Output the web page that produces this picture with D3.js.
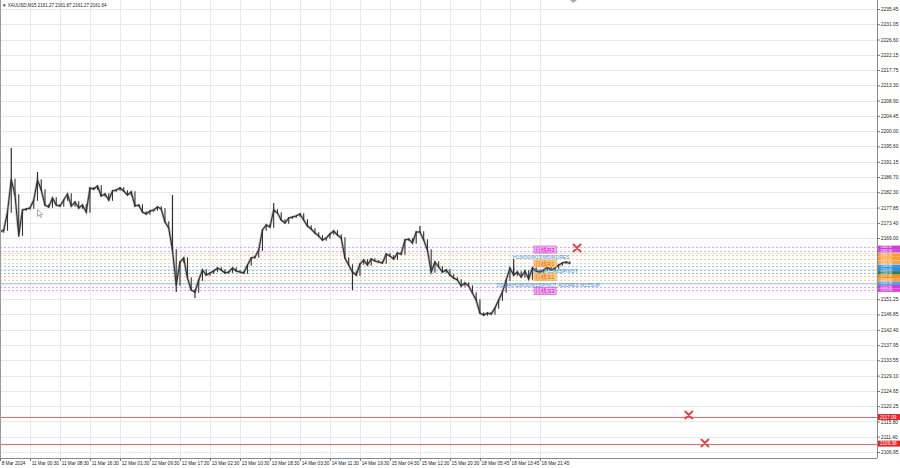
<!DOCTYPE html>
<html><head><meta charset="utf-8">
<script src="https://cdn.jsdelivr.net/npm/d3@7"></script>
<style>body{margin:0;background:#fff;} svg{display:block;}</style>
</head><body>
<svg id="c" width="900" height="468"></svg>
<script>
// ---------------- DATA ----------------
const symbolTitle = "XAUUSD,M15  2161.27 2161.87 2161.27 2161.64";
const timeLabels = ["8 Mar 2024","11 Mar 00:30","11 Mar 08:30","11 Mar 16:30","12 Mar 01:30","12 Mar 09:30",
  "12 Mar 17:30","13 Mar 02:30","13 Mar 10:30","13 Mar 18:30","14 Mar 03:30","14 Mar 11:30","14 Mar 19:30",
  "15 Mar 04:30","15 Mar 12:30","15 Mar 20:30","18 Mar 05:45","18 Mar 13:45","18 Mar 21:45"];
const priceTicks = [2235.45,2231.05,2226.60,2222.15,2217.75,2213.30,2208.90,2204.45,2200.00,2195.60,2191.15,
  2186.70,2182.30,2177.85,2173.40,2169.00,2164.55,2160.10,2155.70,2151.25,2146.85,2142.40,2137.95,2133.55,
  2129.10,2124.65,2120.25,2115.80,2111.40,2106.95];
// hourly closes (one value per hour of trading)
const closes = [2170.76,2171.34,2176.56,2186.00,2181.49,2169.89,2177.14,2177.43,2177.72,2180.04,
  2185.84,2182.94,2178.59,2178.01,2180.62,2178.59,2178.30,2180.04,2181.78,2178.30,
  2179.46,2177.72,2178.59,2176.56,2183.52,2183.23,2184.10,2181.20,2181.78,2180.04,
  2182.65,2182.94,2183.52,2182.65,2181.49,2182.36,2178.30,2178.59,2176.56,2175.98,
  2176.85,2177.14,2178.01,2177.43,2173.66,2171.92,2165.53,2155.38,2162.05,2163.21,
  2157.41,2153.93,2153.35,2156.83,2159.73,2158.28,2158.86,2159.44,2160.31,2159.73,
  2158.86,2159.15,2160.31,2159.44,2159.15,2158.86,2161.18,2163.21,2163.50,2165.53,
  2171.34,2172.79,2172.21,2177.14,2176.27,2174.24,2173.37,2174.82,2175.11,2175.40,
  2175.98,2174.24,2172.50,2171.63,2170.47,2169.59,2168.43,2169.01,2170.18,2171.05,
  2169.89,2169.01,2163.21,2161.18,2159.15,2158.28,2161.47,2162.63,2161.18,2162.92,
  2162.34,2162.05,2161.76,2164.37,2163.79,2162.92,2164.66,2164.37,2168.43,2168.72,
  2167.56,2170.76,2170.76,2168.43,2165.53,2159.15,2162.05,2160.60,2159.15,2159.73,
  2158.28,2157.41,2156.83,2155.09,2155.96,2155.09,2153.06,2151.03,2147.26,2146.68,
  2147.26,2146.97,2148.71,2151.03,2153.35,2156.83,2160.31,2158.28,2159.15,2157.70,
  2159.44,2157.12,2160.31,2159.44,2159.15,2159.73,2160.60,2159.73,2160.31,2161.18,
  2161.76,2162.05,2161.64];
// notable wicks (hour index, extreme price)
const wickHour  = [3, 5, 10, 46, 47, 52, 73, 94, 112, 129, 137];
const wickPrice = [2195.12, 2169.30, 2188.16, 2181.49, 2153.35, 2151.61, 2179.17, 2153.93, 2172.50, 2146.39, 2162.92];
// support / resistance levels
const levelPrices = [2166.32,2165.30,2164.10,2163.00,2161.90,2160.80,2159.85,2158.90,2157.90,2156.90,2155.90,2154.90,2153.90];
const levelColors = ["#d63bd6","#c04fe0","#ff9a2e","#ff9a2e","#ffa040","#3a9be0","#2f8fd8","#2e7d5b","#ff8c1a","#ffa040","#4aa8e8","#d63bd6","#e040e0"];
const redLines = [2117.09, 2109.38];
// annotations
const annText  = ["日线R3","H1|M30|M15|M5|M1|RES","日线R1","M30|M15|M5|PIVOT","日线S1","D1|H4|H1|M30|M15|PIVOT ADDRES M15SUP","日线S3"];
const annHour  = [145.3, 136.8, 145.3, 154.1, 145.3, 132.5, 145.3];
const annPrice = [2165.68, 2163.50, 2161.62, 2159.44, 2157.70, 2155.38, 2153.64];
const annKind  = ["boxM","text","boxO","textEnd","boxO","text","boxM"];
// red cross markers
const markHour  = [153.9, 183.7, 188.0];
const markPrice = [2166.11, 2117.67, 2109.55];

// ---------------- DRAW ----------------
const svg = d3.select("#c");
const plotR = 877, plotB = 458;
const font = "'Liberation Sans', Arial, sans-serif";
const x = d3.scaleLinear().domain([0, 233.9]).range([0, plotR]);
const y = d3.scaleLinear().domain([2106.95, 2235.45]).range([452, 9]);
const labelHours = timeLabels.map((_, i) => i * 8);
const px = v => Math.round(v) + 0.5;

// grid
const grid = svg.append("g");
grid.selectAll("line.h").data(priceTicks).join("line")
  .attr("x1", 0).attr("x2", plotR).attr("y1", d => px(y(d))).attr("y2", d => px(y(d)))
  .attr("stroke", "#e8e8e8");
grid.selectAll("line.v").data(labelHours.slice(1)).join("line")
  .attr("x1", d => px(x(d))).attr("x2", d => px(x(d))).attr("y1", 0).attr("y2", plotB)
  .attr("stroke", "#e8e8e8");

// level lines
svg.append("g").selectAll("line").data(levelPrices).join("line")
  .attr("x1", 0).attr("x2", plotR).attr("y1", d => px(y(d))).attr("y2", d => px(y(d)))
  .attr("stroke", (d, i) => levelColors[i]).attr("stroke-opacity", 0.5)
  .attr("stroke-dasharray", (d, i) => i === 10 ? null : "2,2");

// red lines
svg.append("g").selectAll("line").data(redLines).join("line")
  .attr("x1", 0).attr("x2", plotR).attr("y1", d => Math.round(y(d)) + 0.5).attr("y2", d => Math.round(y(d)) + 0.5)
  .attr("stroke", "#e86a6a").attr("stroke-width", 1);

// price series
const pts = closes.map((c, i) => [x(i), y(c)]);
svg.append("path").attr("d", d3.line()(pts)).attr("fill", "none")
  .attr("stroke", "#8a8a8a").attr("stroke-width", 2.6).attr("stroke-opacity", 0.55);
// candle ranges: open = previous close
svg.append("g").selectAll("line").data(closes).join("line")
  .attr("x1", (d, i) => x(i)).attr("x2", (d, i) => x(i))
  .attr("y1", (d, i) => y(Math.max(d, i ? closes[i - 1] : d)) - 0.8)
  .attr("y2", (d, i) => y(Math.min(d, i ? closes[i - 1] : d)) + 0.8)
  .attr("stroke", "#333").attr("stroke-width", 1.1);
svg.append("path").attr("d", d3.line()(pts)).attr("fill", "none")
  .attr("stroke", "#2e2e2e").attr("stroke-width", 1.1);
svg.append("g").selectAll("line").data(wickHour).join("line")
  .attr("x1", d => x(d)).attr("x2", d => x(d))
  .attr("y1", (d, i) => y(closes[d])).attr("y2", (d, i) => y(wickPrice[i]))
  .attr("stroke", "#2e2e2e").attr("stroke-width", 1.2);

// annotations
const ann = svg.append("g").attr("font-family", font);
annText.forEach((t, i) => {
  const ax = x(annHour[i]), ay = y(annPrice[i]);
  if (annKind[i].startsWith("box")) {
    const mag = annKind[i] === "boxM";
    const txt = ann.append("text").attr("x", ax).attr("y", ay).attr("text-anchor", "middle")
      .attr("dominant-baseline", "central").attr("font-size", 6)
      .attr("fill", mag ? "#cc10c8" : "#d86a00").text(t);
    const bb = txt.node().getBBox();
    ann.insert("rect", () => txt.node())
      .attr("x", bb.x - 1).attr("y", ay - 3.5).attr("width", bb.width + 2).attr("height", 7)
      .attr("fill", mag ? "#f6b8f2" : "#ffc98a").attr("stroke", mag ? "#d040d0" : "#ff9a2e").attr("stroke-width", 0.6);
  } else {
    ann.append("text").attr("x", ax).attr("y", ay).attr("dominant-baseline", "central")
      .attr("text-anchor", annKind[i] === "textEnd" ? "end" : "start")
      .attr("font-size", 5).attr("fill", "#3a8fd6").text(t);
  }
});

// red crosses
svg.append("g").selectAll("path").data(markHour).join("path")
  .attr("transform", (d, i) => `translate(${x(d)},${y(markPrice[i])})`)
  .attr("d", "M-3.5,-3.5L3.5,3.5M-3.5,3.5L3.5,-3.5")
  .attr("stroke", "#e04848").attr("stroke-width", 2).attr("stroke-linecap", "round");

// mouse cursor arrow
svg.append("path").attr("transform", `translate(${x(10)},${y(2177.3)})`)
  .attr("d", "M0,0L0,7L1.8,5.3L3,8L4,7.5L2.9,4.9L5.2,4.9Z")
  .attr("fill", "#fff").attr("stroke", "#777").attr("stroke-width", 0.6);

// borders
svg.append("line").attr("x1", plotR + 0.5).attr("x2", plotR + 0.5).attr("y1", 0).attr("y2", plotB).attr("stroke", "#8a8a8a");
svg.append("line").attr("x1", 0).attr("x2", plotR).attr("y1", plotB + 0.5).attr("y2", plotB + 0.5).attr("stroke", "#8a8a8a");
svg.append("line").attr("x1", 0.5).attr("x2", 0.5).attr("y1", 0).attr("y2", plotB).attr("stroke", "#9a9a9a");
svg.append("path").attr("d", `M${x(152)},0L${x(152)+7},0L${x(152)+3.5},3Z`).attr("fill", "#aaa");

// axes
svg.append("g").attr("transform", `translate(${plotR},0)`)
  .call(d3.axisRight(y).tickValues(priceTicks).tickFormat(d3.format(".2f")).tickSize(3).tickPadding(1))
  .call(g => {
    g.select(".domain").remove();
    g.selectAll("line").attr("stroke", "#777");
    g.selectAll("text").attr("font-size", 4.8).attr("font-family", font).attr("fill", "#222");
    // tick labels hidden behind the level labels
    g.selectAll(".tick").filter(d => d > 2153 && d < 2167).select("text").remove();
  });
svg.append("g").attr("transform", `translate(0,${plotB})`)
  .call(d3.axisBottom(x).tickValues(labelHours).tickFormat((d, i) => timeLabels[i]).tickSize(3).tickPadding(1))
  .call(g => {
    g.select(".domain").remove();
    g.selectAll("line").attr("stroke", "#777");
    g.selectAll("text").attr("text-anchor", "start").attr("dx", 1.2)
      .attr("font-size", 4.7).attr("font-family", font).attr("fill", "#222");
  });

// axis labels for levels
const lab = svg.append("g").attr("font-family", font);
levelPrices.forEach((p, i) => {
  lab.append("rect").attr("x", plotR + 1).attr("y", y(p) - 1.75).attr("width", 22).attr("height", 3.5)
    .attr("fill", levelColors[i]);
  lab.append("text").attr("x", plotR + 3.5).attr("y", y(p)).attr("dominant-baseline", "central")
    .attr("font-size", 3.2).attr("fill", "#fff").text(d3.format(".2f")(p));
});
redLines.forEach(p => {
  lab.append("rect").attr("x", plotR + 1).attr("y", y(p) - 3).attr("width", 22).attr("height", 6)
    .attr("fill", "#e3262b");
  lab.append("text").attr("x", plotR + 3).attr("y", y(p)).attr("dominant-baseline", "central")
    .attr("font-size", 4.6).attr("fill", "#fff").text(d3.format(".2f")(p));
});

// title
svg.append("text").attr("x", 2).attr("y", 6.5).attr("font-family", font).attr("font-size", 4.5)
  .attr("fill", "#222").text("▼ " + symbolTitle);
</script>
</body></html>
